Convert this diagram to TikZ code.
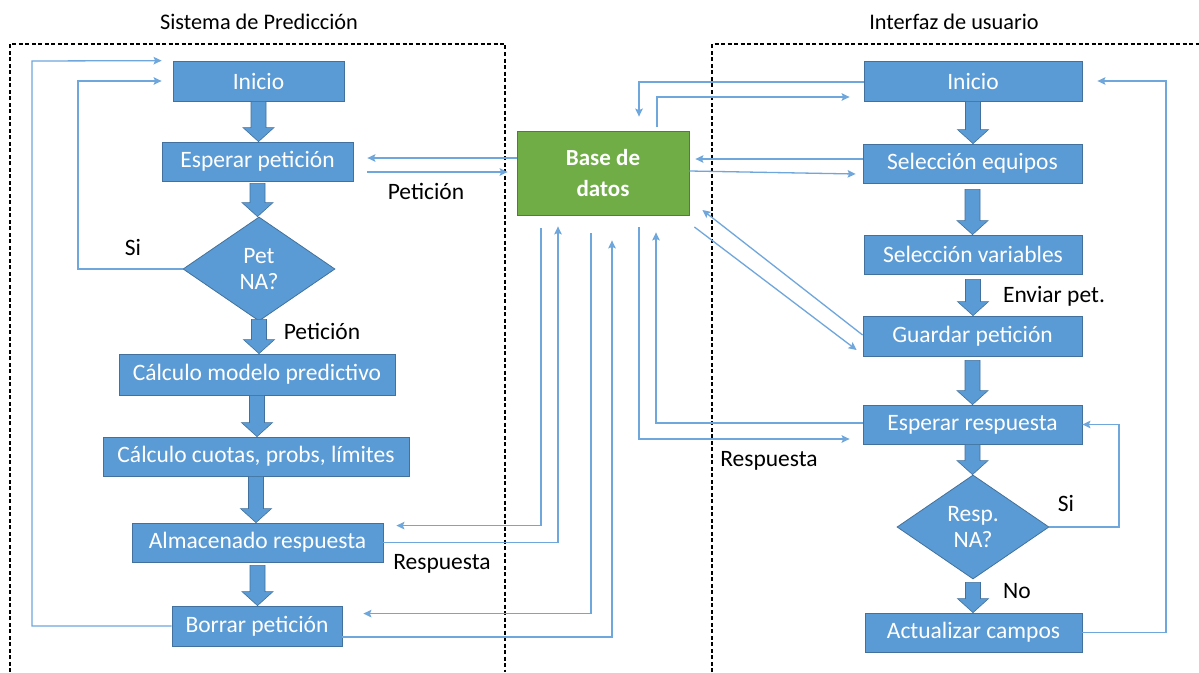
\documentclass[tikz,border=0pt]{standalone}
\usepackage{fontspec}
\setmainfont{Carlito}
\usetikzlibrary{calc,arrows.meta,shapes.geometric}

\definecolor{boxblue}{HTML}{5B9BD5}
\definecolor{boxedge}{HTML}{41719C}
\definecolor{linkblue}{HTML}{6FA6DC}
\definecolor{dbgreen}{HTML}{70AD47}
\definecolor{dbedge}{HTML}{507E32}

\tikzset{
  box/.style={rectangle, fill=boxblue, draw=boxedge, line width=0.8pt,
    text=white, inner sep=0pt, font=\fontsize{23.5}{26}\selectfont},
  decision/.style={diamond, fill=boxblue, draw=boxedge, line width=0.8pt,
    text=white, inner sep=0pt, align=center, minimum width=152pt,
    minimum height=104pt, font=\fontsize{23.5}{26.5}\selectfont},
  dbbox/.style={rectangle, fill=dbgreen, draw=dbedge, line width=0.8pt,
    text=white, inner sep=0pt, align=center,
    font=\fontsize{23}{31}\selectfont\bfseries},
  lbl/.style={text=black, inner sep=0pt, font=\fontsize{23.5}{26}\selectfont},
  ttl/.style={text=black, inner sep=0pt, font=\fontsize{22.3}{25}\selectfont},
  frame/.style={draw=black, line width=1.1pt, dash pattern=on 4pt off 2.5pt},
  conn/.style={draw=linkblue, line width=1.3pt},
  arr/.style={conn, -{Stealth[length=8pt,width=7.5pt,inset=1.5pt]}},
  flow/.style={fill=boxblue, draw=boxedge, line width=0.6pt,
    to path={let \p1=(\tikztostart), \p2=(\tikztotarget) in
      (\x1-7.5pt,\y1) -- (\x1-7.5pt,\y2+14pt) -- (\x1-15.5pt,\y2+14pt)
      -- (\x1,\y2) -- (\x1+15.5pt,\y2+14pt) -- (\x1+7.5pt,\y2+14pt)
      -- (\x1+7.5pt,\y1) -- cycle}},
}

\begin{document}
\begin{tikzpicture}[x=1pt,y=-1pt]
\useasboundingbox (0,0) rectangle (1199,672);
\fill[white] (0,0) rectangle (1199,672);

% group frames and their titles
\draw[frame] (10,672) -- (10,44) -- (505,44) -- (505,672);
\draw[frame] (712,672) -- (712,44) -- (1199,44);
\node[ttl] (tsys) at (259,22) {Sistema de Predicción};
\node[ttl] (tui) at (954,22) {Interfaz de usuario};

% prediction system
\node[box, minimum width=171pt, minimum height=40pt] (L1) at (258.5,81) {Inicio};
\node[box, minimum width=191pt, minimum height=39pt] (L2) at (257.5,161.5) {Esperar petición};
\node[decision] (LD) at (259,269) {Pet\\NA?};
\node[box, minimum width=276pt, minimum height=41pt] (L3) at (257,374.5) {Cálculo modelo predictivo};
\node[box, minimum width=306pt, minimum height=39pt] (L4) at (256,456.5) {Cálculo cuotas, probs, límites};
\node[box, minimum width=251pt, minimum height=39pt] (L5) at (257.5,542.5) {Almacenado respuesta};
\node[box, minimum width=170pt, minimum height=40pt] (L6) at (257,626) {Borrar petición};

% database
\node[dbbox, minimum width=172pt, minimum height=84pt] (DB) at (603,173) {Base de\\datos};

% user interface
\node[box, minimum width=218pt, minimum height=40pt] (R1) at (973,81) {Inicio};
\node[box, minimum width=219pt, minimum height=39pt] (R2) at (972.5,163.5) {Selección equipos};
\node[box, minimum width=218pt, minimum height=39pt] (R3) at (973,254.5) {Selección variables};
\node[box, minimum width=219pt, minimum height=40pt] (R4) at (972.5,336) {Guardar petición};
\node[box, minimum width=219pt, minimum height=39pt] (R5) at (972.5,424.5) {Esperar respuesta};
\node[decision] (RD) at (973,527) {Resp.\\NA?};
\node[box, minimum width=217pt, minimum height=39pt] (R6) at (973.5,632.5) {Actualizar campos};

% main flow arrows
\path[flow] (L1.south) to (L2.north);
\path[flow] ([yshift=-2pt]L2.south) to (LD.north);
\path[flow] ([yshift=2pt]LD.south) to (L3.north);
\path[flow] (L3.south) to (L4.north);
\path[flow] (L4.south) to (L5.north);
\path[flow] ([yshift=-3pt]L5.south) to (L6.north);

\path[flow] (R1.south) to (R2.north);
\path[flow] ([yshift=-6pt]R2.south) to (R3.north);
\path[flow] ([yshift=-5pt]R3.south) to (R4.north);
\path[flow] ([yshift=-4pt]R4.south) to (R5.north);
\path[flow] (R5.south) to (RD.north);
\path[flow] ([yshift=-3pt]RD.south) to (R6.north);

% loops inside the prediction system
\draw[arr, shorten >=11pt] (L6.west) -| (32,61) -- (L1.north west);
\draw[arr, shorten >=11pt] (LD.west) -| (78,81) -- (L1.west);

% request exchange with the database
\draw[arr] ([yshift=15pt]DB.west) -- ([xshift=14pt,yshift=3.5pt]L2.east);
\draw[arr] ([xshift=14pt,yshift=-10.5pt]L2.east) -- ([xshift=-9pt,yshift=1pt]DB.west);

% response exchange with the database
\draw[arr] ([xshift=-62pt,yshift=-13pt]DB.south) |- ([xshift=13pt,yshift=-3pt]L5.north east);
\draw[arr] (L5.east) -| ([xshift=-45pt,yshift=-11pt]DB.south);
\draw[arr] ([xshift=-12pt,yshift=-18pt]DB.south) |- ([xshift=21pt,yshift=-8pt]L6.north east);
\draw[arr] ([yshift=-11pt]L6.east) -| ([xshift=9pt,yshift=-25pt]DB.south);

% user interface exchange with the database
\draw[arr] ([yshift=-1pt]R1.west) -| ([xshift=36pt,yshift=14pt]DB.north);
\draw[arr] ([xshift=54pt,yshift=4pt]DB.north) |- ([xshift=-14pt,yshift=-16pt]R1.west);
\draw[arr] ([yshift=4.5pt]R2.west) -- ([xshift=6pt,yshift=14pt]DB.east);
\draw[arr] ([yshift=2pt]DB.east) -- ([xshift=-7pt,yshift=-10.5pt]R2.west);
\draw[arr] ([yshift=1pt]R4.west) -- ([xshift=13pt,yshift=-37pt]DB.east);
\draw[arr] ([xshift=5pt,yshift=-54pt]DB.east) -- ([xshift=-6pt,yshift=-14pt]R4.west);
\draw[arr] ([xshift=36pt,yshift=-12pt]DB.south) |- ([xshift=-13pt,yshift=-14.5pt]R5.west);
\draw[arr] ([yshift=1.5pt]R5.west) -| ([xshift=53pt,yshift=-17pt]DB.south);

% loops inside the user interface
\draw[arr, shorten >=15pt] (R6.east) -| (1166,81) -- (R1.east);
\draw[arr] (RD.east) -| (1119,424.5) -- (R5.east);

% labels
\node[lbl] (pet1) at (426,191) {Petición};
\node[lbl] (si1) at (133,247) {Si};
\node[lbl] (pet2) at (322,331) {Petición};
\node[lbl] (resp1) at (442,564) {Respuesta};
\node[lbl] (resp2) at (769,461) {Respuesta};
\node[lbl] (env) at (1054,296) {Enviar pet.};
\node[lbl] (si2) at (1066,503) {Si};
\node[lbl] (no) at (1017,591) {No};
\end{tikzpicture}
\end{document}
